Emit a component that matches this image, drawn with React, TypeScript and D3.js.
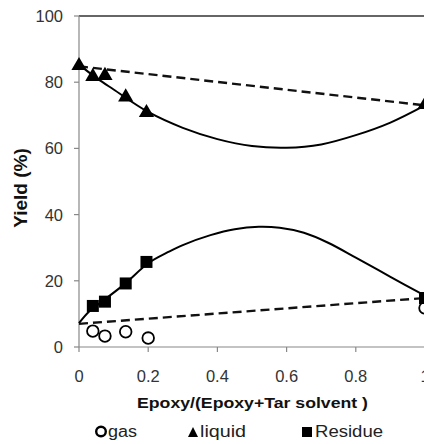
import React from "react";
import * as d3 from "d3";

const W = 424;
const H = 444;

const xTicks = [0, 0.2, 0.4, 0.6, 0.8, 1];
const yTicks = [0, 20, 40, 60, 80, 100];
const xTickLabels = ["0", "0.2", "0.4", "0.6", "0.8", "1"];

const gasX = [0.04, 0.075, 0.135, 0.2, 1.0];
const gasY = [4.8, 3.3, 4.6, 2.7, 11.8];

const liquidX = [0, 0.04, 0.075, 0.135, 0.195, 1.0];
const liquidY = [85, 81.7, 82, 75.5, 70.8, 73.2];

const residueX = [0.04, 0.075, 0.135, 0.195, 1.0];
const residueY = [12.4, 13.7, 19.2, 25.7, 14.8];

// fitted curves
const liquidFitX = [0, 0.05, 0.1, 0.2, 0.3, 0.4, 0.5, 0.6, 0.7, 0.8, 0.9, 1.0];
const liquidFitY = [85.3, 81.3, 77.8, 71, 66.2, 62.8, 60.7, 60.2, 61.2, 64, 67.8, 73];

const residueFitX = [0, 0.03, 0.07, 0.135, 0.2, 0.26, 0.3, 0.38, 0.45, 0.52, 0.58, 0.65, 0.72, 0.8, 0.9, 1.0];
const residueFitY = [7.2, 10.8, 14, 19.3, 25.3, 28.8, 30.8, 33.8, 35.6, 36.3, 36.0, 34.5, 31.5, 27, 21.2, 15.5];

// dashed straight lines
const liquidDashX = [0, 1];
const liquidDashY = [84.8, 73];
const lowDashX = [0, 1];
const lowDashY = [7, 14.8];

const legendLabels = ["gas", "liquid", "Residue"];

export default function App() {
  const x0 = 79;
  const x1 = 425;
  const yTop = 16;
  const yBot = 347;
  const x = d3.scaleLinear().domain([0, 1]).range([x0, x1]);
  const y = d3.scaleLinear().domain([0, 100]).range([yBot, yTop]);

  const smooth = d3
    .line<[number, number]>()
    .x((d) => x(d[0]))
    .y((d) => y(d[1]))
    .curve(d3.curveCatmullRom.alpha(0.5));
  const straight = d3
    .line<[number, number]>()
    .x((d) => x(d[0]))
    .y((d) => y(d[1]));

  const zip = (a: number[], b: number[]) => a.map((v, i) => [v, b[i]] as [number, number]);

  const tri = d3.symbol().type(d3.symbolTriangle).size(100)();
  const font = "'Liberation Sans', Arial, sans-serif";

  return (
    <svg
      width={W}
      height={H}
      style={{ position: "absolute", left: 0, top: 0, background: "#fff" }}
      fontFamily={font}
    >
      <rect x={0} y={0} width={W} height={H} fill="#fff" />
      {/* axes */}
      <line x1={x0} y1={yTop} x2={W} y2={yTop} stroke="#333" strokeWidth={1.3} />
      <line x1={x0} y1={yTop} x2={x0} y2={yBot} stroke="#888" strokeWidth={1.2} />
      <line x1={x0} y1={yBot} x2={W} y2={yBot} stroke="#888" strokeWidth={1.2} />
      {yTicks.map((t) => (
        <g key={"y" + t}>
          <line x1={x0 - 5} x2={x0} y1={y(t)} y2={y(t)} stroke="#888" strokeWidth={1.2} />
          <text x={63} y={y(t) + 6} textAnchor="end" fontSize={16.5} fill="#333">
            {t}
          </text>
        </g>
      ))}
      {xTicks.map((t, i) => (
        <g key={"x" + t}>
          <line x1={x(t)} x2={x(t)} y1={yBot} y2={yBot + 5} stroke="#888" strokeWidth={1.2} />
          <text x={x(t)} y={382} textAnchor="middle" fontSize={16.5} fill="#333">
            {xTickLabels[i]}
          </text>
        </g>
      ))}
      <text x={137} y={408} fontSize={15.5} fontWeight="bold" fill="#111" textLength={231} lengthAdjust="spacingAndGlyphs">
        Epoxy/(Epoxy+Tar solvent )
      </text>
      <text
        transform={`translate(27, 188) rotate(-90)`}
        textAnchor="middle"
        fontSize={19}
        fontWeight="bold"
        fill="#111"
      >
        Yield (%)
      </text>

      {/* lines */}
      <path d={straight(zip(liquidDashX, liquidDashY)) || ""} fill="none" stroke="#111" strokeWidth={2.4} strokeDasharray="9,5" />
      <path d={straight(zip(lowDashX, lowDashY)) || ""} fill="none" stroke="#111" strokeWidth={2.4} strokeDasharray="9,5" />
      <path d={smooth(zip(liquidFitX, liquidFitY)) || ""} fill="none" stroke="#000" strokeWidth={2} />
      <path d={smooth(zip(residueFitX, residueFitY)) || ""} fill="none" stroke="#000" strokeWidth={2} />

      {/* markers */}
      {gasX.map((v, i) => (
        <circle key={"g" + i} cx={x(v)} cy={y(gasY[i])} r={5.8} fill="#fff" stroke="#000" strokeWidth={1.8} />
      ))}
      {liquidX.map((v, i) => (
        <path key={"l" + i} d={tri || ""} transform={`translate(${x(v)},${y(liquidY[i])})`} fill="#000" />
      ))}
      {residueX.map((v, i) => (
        <rect key={"r" + i} x={x(v) - 6} y={y(residueY[i]) - 6} width={12} height={12} fill="#000" />
      ))}

      {/* legend */}
      <circle cx={101} cy={431.5} r={4.8} fill="none" stroke="#000" strokeWidth={2.4} />
      <text x={108} y={437} fontSize={16} fill="#222" textLength={29} lengthAdjust="spacingAndGlyphs">{legendLabels[0]}</text>
      <path d="M188,437 L198,437 L193,427 Z" fill="#000" />
      <text x={200} y={437} fontSize={16} fill="#222" textLength={46} lengthAdjust="spacingAndGlyphs">{legendLabels[1]}</text>
      <rect x={302} y={427} width={10} height={10} fill="#000" />
      <text x={315} y={437} fontSize={16} fill="#222" textLength={68} lengthAdjust="spacingAndGlyphs">{legendLabels[2]}</text>
    </svg>
  );
}
